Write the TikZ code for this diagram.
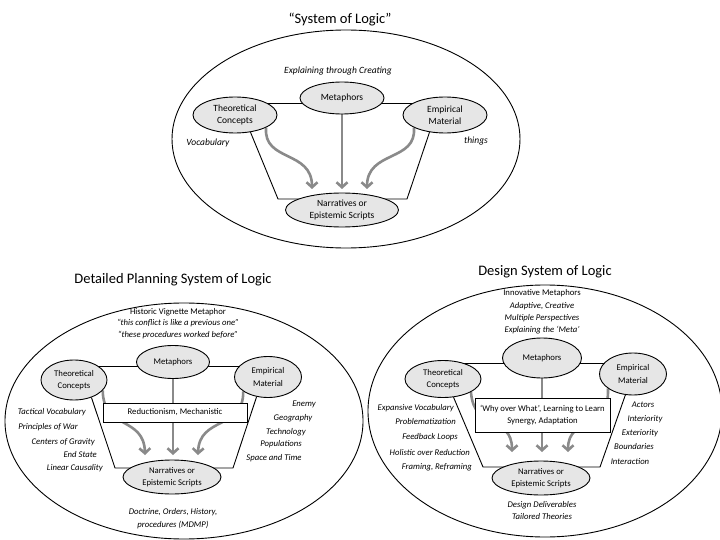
\documentclass[tikz,border=0pt]{standalone}
\usepackage{fontspec}
\setmainfont{Carlito}
\usetikzlibrary{shapes.geometric,arrows.meta}
\pgfdeclarelayer{bg}
\pgfsetlayers{bg,main}
\definecolor{ovalfill}{HTML}{E6E6E6}
\definecolor{flowgray}{HTML}{8A8A8A}
\tikzset{
  oval/.style={ellipse,draw=black,line width=0.9pt,fill=ovalfill,inner sep=0pt,align=center},
  topfont/.style={font=\fontsize{9.5}{12}\selectfont},
  botfont/.style={font=\fontsize{8.7}{12.5}\selectfont},
  ital/.style={inner sep=0pt,font=\fontsize{8.7}{10}\selectfont\itshape},
  italtop/.style={inner sep=0pt,font=\fontsize{9.5}{11}\selectfont\itshape},
  plain/.style={inner sep=0pt,font=\fontsize{8.7}{10}\selectfont},
  ttl/.style={inner sep=0pt,font=\fontsize{14.5}{16}\selectfont},
  link/.style={draw=black,line width=0.9pt},
  frame/.style={draw=black,line width=0.9pt},
  flow/.style={draw=flowgray,line width=2.6pt,-{Straight Barb[length=5pt,width=11pt]}},
  rbox/.style={draw=black,line width=0.9pt,fill=white,inner sep=0pt,align=center,font=\fontsize{8.7}{12}\selectfont}
}
\begin{document}
\begin{tikzpicture}[x=1pt,y=-1pt]
\useasboundingbox (0,0) rectangle (720,540);

%================ TOP ==================
\node[ttl] (t1) at (340,20) {“System of Logic”};
\draw[frame] (346,139) ellipse [x radius=174, y radius=109];
\node[italtop] (t1exp) at (338,71) {Explaining through Creating};
\node[oval,topfont,minimum width=84pt,minimum height=32pt] (m1) at (342,98) {Metaphors};
\node[oval,topfont,minimum width=84pt,minimum height=36pt] (th1) at (235,115) {Theoretical\\Concepts};
\node[oval,topfont,minimum width=84pt,minimum height=36pt] (em1) at (445,115) {Empirical\\Material};
\node[oval,topfont,minimum width=113pt,minimum height=34pt] (n1) at (342,210) {Narratives or\\Epistemic Scripts};
\node[italtop] (voc1) at (208,143) {Vocabulary};
\node[italtop] (thi1) at (476,141) {things};
\coordinate (a1l) at (278,199);
\coordinate (a1r) at (407,199);
\coordinate (c1l) at (312,189);
\coordinate (c1r) at (367,189);
\begin{pgfonlayer}{bg}
  \draw[link] ([yshift=-5pt]m1.center) -- ([yshift=-5pt]m1.center -| th1.center);
  \draw[link] ([yshift=-5pt]m1.center) -- ([yshift=-5pt]m1.center -| em1.center);
  \draw[link] (th1.-48) -- (a1l) -- (a1r) -- (em1.-132);
  \draw[flow] (m1) -- (342,189);
  \draw[flow] (th1.-22) .. controls (263,162) and (312,150) .. (c1l);
  \draw[flow] (em1.-158) .. controls (417,162) and (367,150) .. (c1r);
\end{pgfonlayer}

%================ BOTTOM LEFT ==================
\node[ttl] (t2) at (173,280) {Detailed Planning System of Logic};
\draw[frame] (184,421) ellipse [x radius=179, y radius=118];
\node[plain] (h2a) at (178,312) {Historic Vignette Metaphor};
\node[ital] (h2b) at (178,323) {“this conflict is like a previous one”};
\node[ital] (h2c) at (178,335) {“these procedures worked before”};
\node[oval,botfont,minimum width=73pt,minimum height=33pt] (m2) at (173,362) {Metaphors};
\node[oval,botfont,minimum width=66pt,minimum height=40pt] (th2) at (74,380) {Theoretical\\Concepts};
\node[oval,botfont,minimum width=67pt,minimum height=41pt] (em2) at (268,377) {Empirical\\Material};
\node[oval,botfont,minimum width=98pt,minimum height=34pt] (n2) at (172,477) {Narratives or\\Epistemic Scripts};
\node[rbox,minimum width=144pt,minimum height=19pt] (b2) at (175,412.5) {Reductionism, Mechanistic};
\node[ital,anchor=east] (l2a) at (86,412) {Tactical Vocabulary};
\node[ital,anchor=east] (l2b) at (78,427) {Principles of War};
\node[ital,anchor=east] (l2c) at (95,442) {Centers of Gravity};
\node[ital,anchor=east] (l2d) at (97,455) {End State};
\node[ital,anchor=east] (l2e) at (103,468) {Linear Causality};
\node[ital] (r2a) at (304,404) {Enemy};
\node[ital] (r2b) at (293,418) {Geography};
\node[ital] (r2c) at (286,432) {Technology};
\node[ital] (r2d) at (281,444) {Populations};
\node[ital] (r2e) at (274,458) {Space and Time};
\node[ital] (d2a) at (173,512) {Doctrine, Orders, History,};
\node[ital] (d2b) at (173,525) {procedures (MDMP)};
\coordinate (a2l) at (115,468);
\coordinate (a2r) at (233,468);
\coordinate (c2l) at (145,455);
\coordinate (c2r) at (198,455);
\begin{pgfonlayer}{bg}
  \draw[link] ([yshift=-4pt]m2.center) -- ([yshift=-4pt]m2.center -| th2.center);
  \draw[link] ([yshift=-4pt]m2.center) -- ([yshift=-4pt]m2.center -| em2.center);
  \draw[link] (th2.-45) -- (a2l) -- (a2r) -- (em2.-120);
  \draw[flow] (m2) -- (173,455);
  \draw[flow] (th2.-20) .. controls (103,430) and (144,416) .. (c2l);
  \draw[flow] (em2.-150) .. controls (244,430) and (199,416) .. (c2r);
\end{pgfonlayer}

%================ BOTTOM RIGHT ==================
\node[ttl] (t3) at (545,272) {Design System of Logic};
\draw[frame] (545,411) ellipse [x radius=177, y radius=126];
\node[plain] (h3a) at (542,293) {Innovative Metaphors};
\node[ital] (h3b) at (542,306) {Adaptive, Creative};
\node[ital] (h3c) at (542,318) {Multiple Perspectives};
\node[ital] (h3d) at (542,330) {Explaining the ‘Meta’};
\node[oval,botfont,minimum width=79pt,minimum height=40pt] (m3) at (542,358) {Metaphors};
\node[oval,botfont,minimum width=76pt,minimum height=37pt] (th3) at (443,379) {Theoretical\\Concepts};
\node[oval,botfont,minimum width=67pt,minimum height=42pt] (em3) at (633,374) {Empirical\\Material};
\node[oval,botfont,minimum width=98pt,minimum height=34pt] (n3) at (541,478) {Narratives or\\Epistemic Scripts};
\node[rbox,minimum width=135pt,minimum height=34pt] (b3) at (542.5,415) {‘Why over What’, Learning to Learn\\Synergy, Adaptation};
\node[ital,anchor=east] (l3a) at (454,408) {Expansive Vocabulary};
\node[ital,anchor=east] (l3b) at (456,422) {Problematization};
\node[ital,anchor=east] (l3c) at (458,437) {Feedback Loops};
\node[ital,anchor=east] (l3d) at (470,453) {Holistic over Reduction};
\node[ital,anchor=east] (l3e) at (472,467) {Framing, Reframing};
\node[ital] (r3a) at (643,405) {Actors};
\node[ital] (r3b) at (645,419) {Interiority};
\node[ital] (r3c) at (640,433) {Exteriority};
\node[ital] (r3d) at (634,447) {Boundaries};
\node[ital] (r3e) at (630,462) {Interaction};
\node[ital] (d3a) at (542,505) {Design Deliverables};
\node[ital] (d3b) at (542,517) {Tailored Theories};
\coordinate (a3l) at (483,467);
\coordinate (a3r) at (600,467);
\coordinate (c3l) at (512,452);
\coordinate (c3r) at (568,452);
\begin{pgfonlayer}{bg}
  \draw[link] ([yshift=-5pt]m3.center) -- ([yshift=-5pt]m3.center -| th3.center);
  \draw[link] ([yshift=-5pt]m3.center) -- ([yshift=-5pt]m3.center -| em3.center);
  \draw[link] (th3.-60) -- (a3l) -- (a3r) -- (em3.-110);
  \draw[flow] (m3) -- (542,452);
  \draw[flow] (th3.-25) .. controls (474,432) and (512,415) .. (c3l);
  \draw[flow] (em3.-150) .. controls (610,432) and (568,415) .. (c3r);
\end{pgfonlayer}
\end{tikzpicture}
\end{document}
